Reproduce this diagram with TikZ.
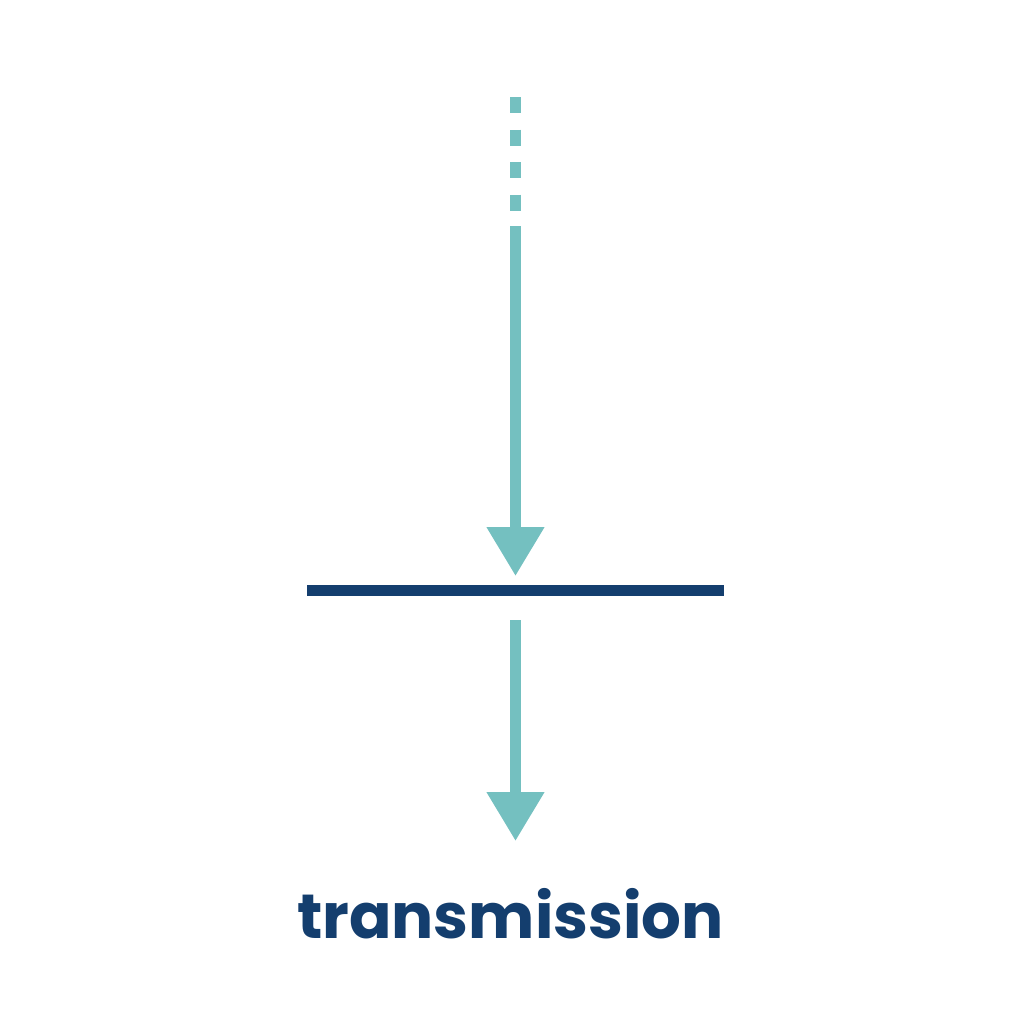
\documentclass[tikz,border=0pt]{standalone}
\usepackage{fontspec}
\setmainfont{Poppins}
\usetikzlibrary{arrows.meta}
\definecolor{rayteal}{HTML}{74C0C0}
\definecolor{slabblue}{HTML}{143E6E}
\begin{document}
\begin{tikzpicture}[
    ray/.style={rayteal, line width=0.11cm},
    rayhead/.style={-{Triangle[width=0.55cm, length=0.49cm]}}
  ]
    % Frame
    \fill[white] (0,0) rectangle (10.24,-10.24);
    \useasboundingbox (0,0) rectangle (10.24,-10.24);

    % Points along the ray
    \coordinate (dashtop) at (5.155,-0.97);
    \coordinate (dashend) at (5.155,-2.11);
    \coordinate (incstart) at (5.155,-2.26);
    \coordinate (inctip) at (5.155,-5.76);
    \coordinate (outstart) at (5.155,-6.20);
    \coordinate (outtip) at (5.155,-8.41);
    \coordinate (barleft) at (3.07,-5.905);
    \coordinate (barright) at (7.24,-5.905);

    % Incoming ray, dashed then solid
    \draw[ray, dash pattern=on 0.16cm off 0.165cm] (dashtop) -- (dashend);
    \draw[ray, rayhead] (incstart) -- (inctip);

    % The surface
    \draw[slabblue, line width=0.11cm] (barleft) -- (barright);

    % Transmitted ray
    \draw[ray, rayhead] (outstart) -- (outtip);

    % Label
    \node[slabblue, anchor=base, font=\fontsize{17.8}{20}\selectfont\bfseries, inner sep=0pt] (label) at (5.105,-9.38) {transmission};
\end{tikzpicture}
\end{document}
